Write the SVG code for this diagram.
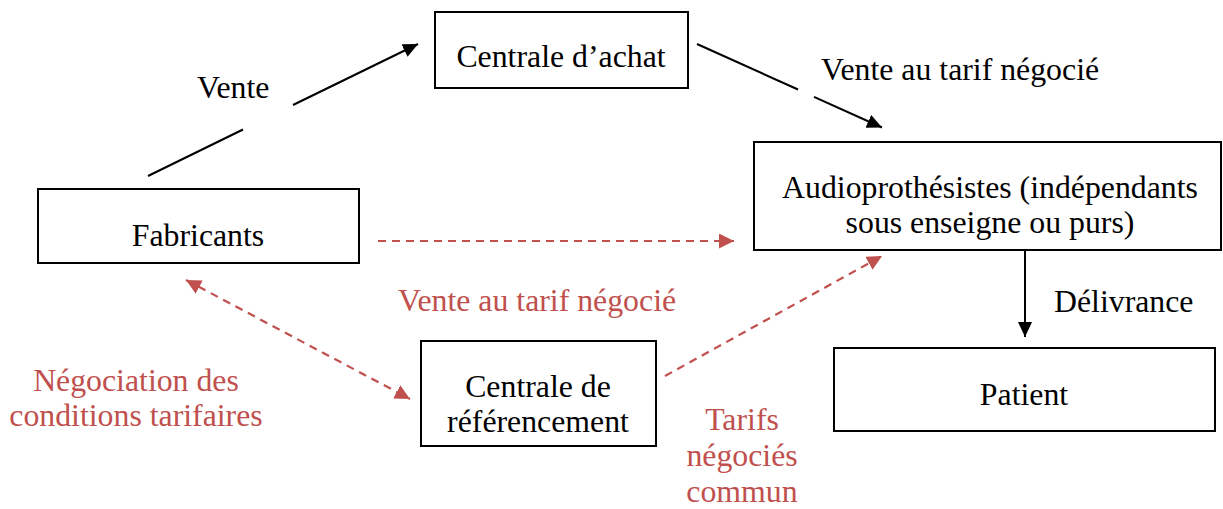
<svg xmlns="http://www.w3.org/2000/svg" width="1223" height="509" viewBox="0 0 1223 509">
<style>
  .box { fill: #ffffff; stroke: #000000; stroke-width: 2; }
  .t { font-family: "Liberation Serif", "Times New Roman", serif; font-size: 31.8px; fill: #000000; }
  .red { fill: #C0504D; }
  .mid { text-anchor: middle; }
  .blk { stroke: #000000; stroke-width: 2; fill: none; }
  .dash { stroke: #C0504D; stroke-width: 2.2; stroke-dasharray: 8 6; fill: none; }
</style>
<defs>
  <marker id="ab" markerUnits="userSpaceOnUse" markerWidth="16" markerHeight="14" refX="15" refY="7" orient="auto">
    <path d="M0,0 L15,7 L0,14 z" fill="#000000"/>
  </marker>
  <marker id="ar" markerUnits="userSpaceOnUse" markerWidth="16" markerHeight="15" refX="15" refY="7.5" orient="auto-start-reverse">
    <path d="M0,0 L15,7.5 L0,15 z" fill="#C0504D"/>
  </marker>
</defs>
<rect width="1223" height="509" fill="#ffffff"/>

<g id="connectors">
  <line class="blk" x1="148" y1="176" x2="243" y2="129.5"/>
  <line class="blk" x1="293" y1="105" x2="418" y2="44" marker-end="url(#ab)"/>
  <line class="blk" x1="697" y1="44" x2="798" y2="89.5"/>
  <line class="blk" x1="814" y1="96.8" x2="882" y2="127.5" marker-end="url(#ab)"/>
  <line class="blk" x1="1025" y1="241" x2="1025" y2="337" marker-end="url(#ab)"/>
  <line class="dash" x1="378" y1="241" x2="734" y2="241" marker-end="url(#ar)"/>
  <line class="dash" x1="186" y1="280" x2="410" y2="399" marker-start="url(#ar)" marker-end="url(#ar)"/>
  <line class="dash" x1="665" y1="376" x2="882" y2="256" marker-end="url(#ar)"/>
</g>

<g id="labels">
  <text class="t" x="197" y="98">Vente</text>
  <text class="t" x="821" y="80">Vente au tarif négocié</text>
  <text class="t" x="1054" y="312">Délivrance</text>
  <text class="t red" x="398" y="311">Vente au tarif négocié</text>
  <text class="t red mid" x="136" y="391">Négociation des</text>
  <text class="t red mid" x="136" y="426">conditions tarifaires</text>
  <text class="t red mid" x="742" y="430">Tarifs</text>
  <text class="t red mid" x="742" y="466">négociés</text>
  <text class="t red mid" x="742" y="502">commun</text>
</g>

<g id="node-centrale-achat">
  <rect class="box" x="435" y="12" width="253" height="76"/>
  <text class="t mid" x="561" y="67">Centrale d’achat</text>
</g>

<g id="node-audioprothesistes">
  <rect class="box" x="754" y="142" width="467" height="108"/>
  <text class="t mid" x="990" y="198">Audioprothésistes (indépendants</text>
  <text class="t mid" x="990" y="233">sous enseigne ou purs)</text>
</g>

<g id="node-fabricants">
  <rect class="box" x="38" y="189" width="321" height="74"/>
  <text class="t mid" x="198" y="246">Fabricants</text>
</g>

<g id="node-centrale-referencement">
  <rect class="box" x="421" y="341" width="235" height="105"/>
  <text class="t mid" x="538" y="397">Centrale de</text>
  <text class="t mid" x="538" y="432">référencement</text>
</g>

<g id="node-patient">
  <rect class="box" x="834" y="348" width="381" height="83"/>
  <text class="t mid" x="1024" y="405">Patient</text>
</g>
</svg>
